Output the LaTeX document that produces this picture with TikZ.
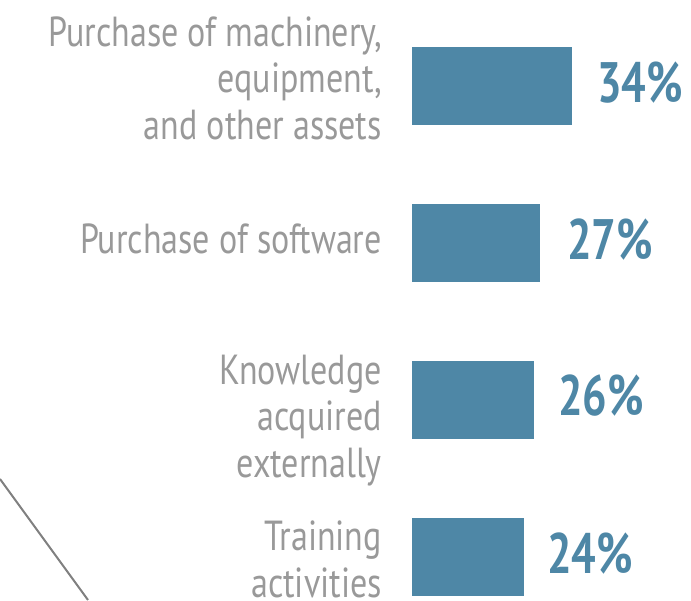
\documentclass[tikz,border=0pt]{standalone}
\usepackage{fontspec}
\newfontfamily\lblfont[FakeStretch=0.81]{PT Sans}
\newfontfamily\pctfont[FakeStretch=0.76]{PT Sans}
\definecolor{barblue}{RGB}{78,135,166}
\definecolor{lblgray}{RGB}{153,153,153}
\definecolor{linegray}{RGB}{128,128,128}
\begin{document}
\begin{tikzpicture}[x=1pt,y=-1pt,
  lbl/.style={anchor=base east,align=right,inner sep=0pt,text=lblgray,
    font=\lblfont\fontsize{42}{46.5}\selectfont},
  pct/.style={anchor=base west,inner sep=0pt,text=barblue,
    font=\pctfont\bfseries\fontsize{57}{60}\selectfont}]
\useasboundingbox (0,0) rectangle (691,600);
% bars
\fill[barblue] (412,47) rectangle (572,125);
\fill[barblue] (412,204) rectangle (540,282);
\fill[barblue] (412,361) rectangle (534,439);
\fill[barblue] (412,518) rectangle (524,596);
\coordinate (b1) at (572,102);
\coordinate (b2) at (540,259);
\coordinate (b3) at (534,415);
\coordinate (b4) at (524,573);
\node[pct] (p1) at ([xshift=25]b1) {34\%};
\node[pct] (p2) at ([xshift=27]b2) {27\%};
\node[pct] (p3) at ([xshift=24]b3) {26\%};
\node[pct] (p4) at ([xshift=23]b4) {24\%};
% labels (anchor at baseline of last line)
\node[lbl] (l1) at (382,139) {Purchase of machinery,\\equipment,\\and other assets\hspace{9pt}};
\node[lbl] (l2) at (382,253) {Purchase of software};
\node[lbl] (l3) at (382,477) {Knowledge\\acquired\\externally};
\node[lbl] (l4) at (382,597) {Training\\activities\hspace{9pt}};
% diagonal line
\coordinate (d1) at (0,479);
\coordinate (d2) at (88,600);
\draw[linegray,line width=2pt] (d1) -- (d2);
\end{tikzpicture}
\end{document}
